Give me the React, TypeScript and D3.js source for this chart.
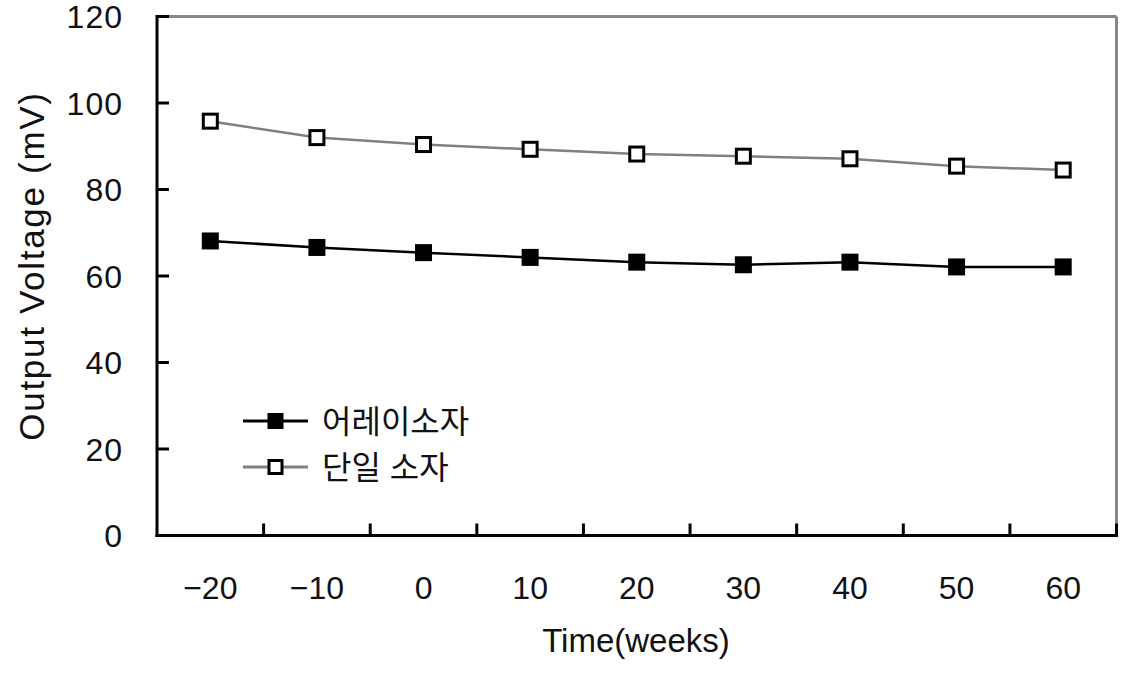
import React from "react";
import * as d3 from "d3";

const categories = ["-20", "-10", "0", "10", "20", "30", "40", "50", "60"];
const arraySeries = [68.1, 66.6, 65.4, 64.3, 63.2, 62.6, 63.2, 62.1, 62.1];
const singleSeries = [95.8, 92.0, 90.4, 89.3, 88.2, 87.7, 87.1, 85.4, 84.5];
const yTicks = [0, 20, 40, 60, 80, 100, 120];
const seriesNames = ["어레이소자", "단일 소자"];

const W = 1132;
const H = 673;
const left = 157;
const right = 1116.5;
const top = 16.5;
const bottom = 535.5;
const FONT = "'Liberation Sans', 'Noto Sans CJK KR', sans-serif";

export default function App() {
  const x = d3.scaleBand<string>().domain(categories).range([left, right]).padding(0);
  const y = d3.scaleLinear().domain([0, 120]).range([bottom, top]);
  const cx = (c: string) => (x(c) as number) + x.bandwidth() / 2;
  const line = d3
    .line<number>()
    .x((_, i) => cx(categories[i]))
    .y((d) => y(d));
  const boundaries = categories.map((c) => (x(c) as number) + x.bandwidth()).slice(0, -1);

  return (
    <svg
      width={W}
      height={H}
      style={{ position: "absolute", left: 0, top: 0, background: "#fff" }}
      fontFamily={FONT}
    >
      {/* top and right borders */}
      <line x1={left} x2={right} y1={top} y2={top} stroke="#888" strokeWidth={3} />
      <line x1={right} x2={right} y1={top} y2={bottom} stroke="#888" strokeWidth={3} />
      {/* axes */}
      <line x1={left} x2={left} y1={top - 1.5} y2={bottom + 1.5} stroke="#000" strokeWidth={3} />
      <line x1={left - 1.5} x2={right + 1.5} y1={bottom} y2={bottom} stroke="#000" strokeWidth={3} />
      {yTicks.map((t) => (
        <g key={t}>
          <line x1={left} x2={left + 12} y1={y(t)} y2={y(t)} stroke="#000" strokeWidth={3} />
          <text x={123} y={y(t)} dy="0.36em" textAnchor="end" fontSize={32} letterSpacing={1} fill="#111">
            {t}
          </text>
        </g>
      ))}
      {boundaries.map((b, i) => (
        <line key={i} x1={b} x2={b} y1={bottom} y2={bottom - 12} stroke="#000" strokeWidth={3} />
      ))}
      <line x1={right} x2={right} y1={bottom} y2={bottom - 12} stroke="#000" strokeWidth={3} />
      {categories.map((c) => (
        <text key={c} x={cx(c)} y={599} textAnchor="middle" fontSize={32} fill="#111">
          {c.replace("-", "\u2212")}
        </text>
      ))}
      <text x={636} y={652} textAnchor="middle" fontSize={33} fill="#111">
        Time(weeks)
      </text>
      <text
        transform={`translate(44, 266) rotate(-90)`}
        textAnchor="middle"
        fontSize={35}
        letterSpacing={1.7}
        fill="#111"
      >
        Output Voltage (mV)
      </text>

      {/* series */}
      <path d={line(singleSeries) || ""} fill="none" stroke="#808080" strokeWidth={2.5} />
      <path d={line(arraySeries) || ""} fill="none" stroke="#000" strokeWidth={2.5} />
      {singleSeries.map((v, i) => (
        <rect
          key={"s" + i}
          x={cx(categories[i]) - 7}
          y={y(v) - 7}
          width={14}
          height={14}
          fill="#fff"
          stroke="#000"
          strokeWidth={3}
        />
      ))}
      {arraySeries.map((v, i) => (
        <rect key={"a" + i} x={cx(categories[i]) - 8.5} y={y(v) - 8.5} width={17} height={17} fill="#000" />
      ))}

      {/* legend */}
      <g>
        <line x1={243} x2={308} y1={421} y2={421} stroke="#000" strokeWidth={3} />
        <rect x={275.5 - 8} y={421 - 8} width={16} height={16} fill="#000" />
        <text x={322} y={421} dy="0.36em" fontSize={32} fill="#111">
          {seriesNames[0]}
        </text>
        <line x1={243} x2={308} y1={467} y2={467} stroke="#808080" strokeWidth={3} />
        <rect x={275.5 - 6.5} y={467 - 6.5} width={13} height={13} fill="#fff" stroke="#000" strokeWidth={3} />
        <text x={322} y={467} dy="0.36em" fontSize={32} fill="#111">
          {seriesNames[1]}
        </text>
      </g>
    </svg>
  );
}
